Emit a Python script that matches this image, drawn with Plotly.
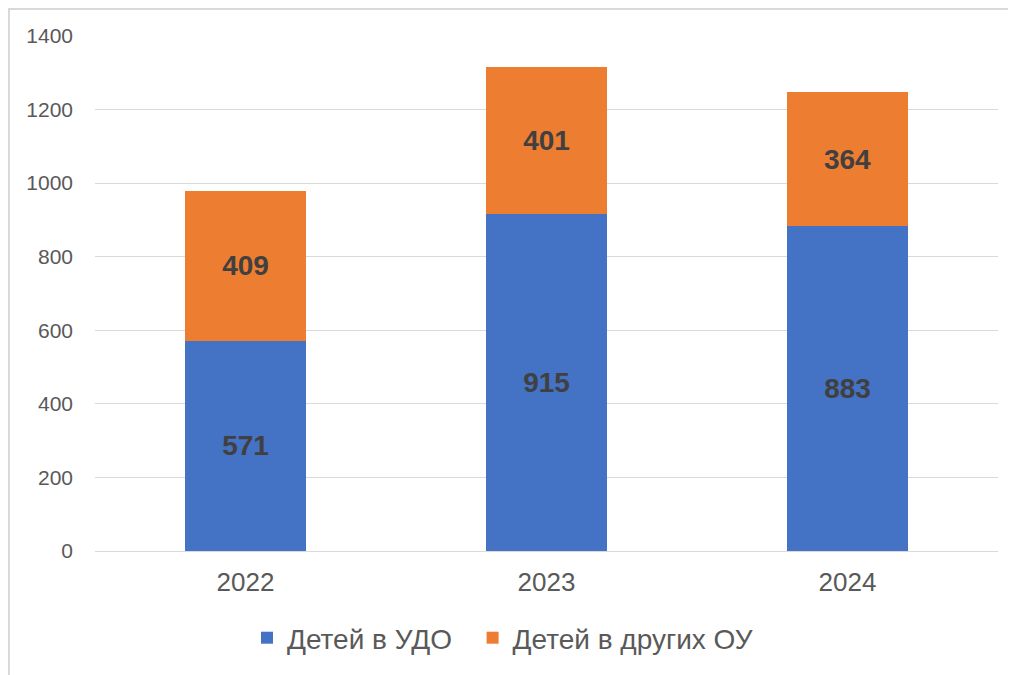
import plotly.graph_objects as go

years = ["2022", "2023", "2024"]
udo = [571, 915, 883]
other = [409, 401, 364]
series_names = ["Детей в УДО", "Детей в других ОУ"]
colors = ["#4472C4", "#ED7D31"]

FONT = "Liberation Sans, Arial, sans-serif"

fig = go.Figure()
for i, (name, vals, col) in enumerate(zip(series_names, [udo, other], colors)):
    label = name + ("\u00a0\u00a0" if i == 0 else "")
    fig.add_trace(go.Bar(
        x=years, y=vals, name=label,
        marker=dict(color=col, line=dict(width=0)),
        text=[str(v) for v in vals],
        textposition="inside", insidetextanchor="middle",
        textangle=0,
        textfont=dict(family=FONT, size=28, color="#404040", weight="bold"),
    ))

OFF = 8  # page body margin offset
W, H = 1016 - OFF, 675 - OFF
# reference pixel coords of plot area
PX0, PX1, PY0, PY1 = 95, 998, 36, 551
L, R, T, B = PX0 - OFF, W - (PX1 - OFF), PY0 - OFF, H - (PY1 - OFF)
pw, ph = W - L - R, H - T - B

def px_x(x):
    return (x - OFF - L) / pw

def px_y(y):
    return ((T + ph) - (y - OFF)) / ph

fig.update_layout(
    barmode="stack",
    bargap=0.6,
    width=W, height=H,
    margin=dict(l=L, r=R, t=T, b=B),
    paper_bgcolor="white", plot_bgcolor="white",
    font=dict(family=FONT, color="#595959"),
    showlegend=True,
    legend=dict(
        orientation="h",
        x=px_x(502.5), xanchor="center",
        y=px_y(638), yanchor="middle",
        font=dict(size=28, color="#595959", family=FONT),
        itemwidth=30,
        tracegroupgap=0,
        traceorder="normal",
    ),
    xaxis=dict(
        tickfont=dict(size=26, color="#595959"),
        showgrid=False, showline=False, zeroline=False,
        ticks="", ticklabelstandoff=13,
    ),
    yaxis=dict(
        range=[0, 1400], dtick=200,
        tickfont=dict(size=21, color="#595959"),
        showgrid=True, gridcolor="#d9d9d9", gridwidth=1,
        zeroline=True, zerolinecolor="#d9d9d9", zerolinewidth=1,
        showline=False, ticks="", ticklabelstandoff=21,
    ),
    shapes=[dict(
        type="rect", xref="paper", yref="paper",
        x0=px_x(9), x1=px_x(1040),
        y0=px_y(720), y1=px_y(9),
        line=dict(color="#d9d9d9", width=2), fillcolor="rgba(0,0,0,0)",
        layer="below",
    )],
)

fig.write_html("out.html")
